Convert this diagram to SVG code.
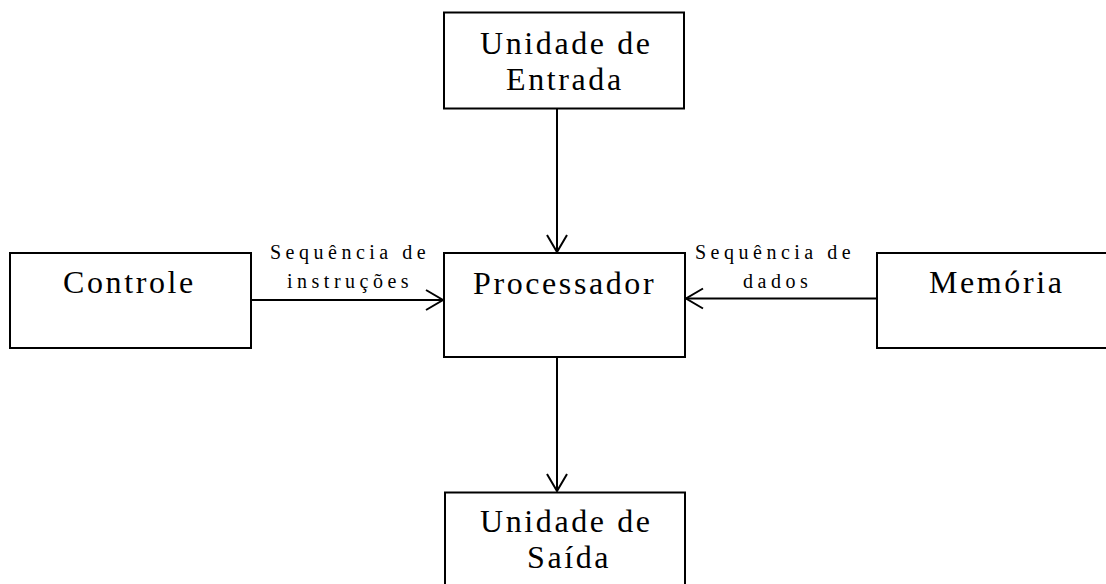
<svg xmlns="http://www.w3.org/2000/svg" width="1106" height="584" viewBox="0 0 1106 584">
<defs>
<style>
.box{fill:#fff;stroke:#000;stroke-width:2}
.big{font-family:"Liberation Serif","Times New Roman",serif;font-size:32px;letter-spacing:2.6px;fill:#000}
.small{font-family:"Liberation Serif","Times New Roman",serif;font-size:20px;letter-spacing:4.5px;fill:#000}
.conn{stroke:#000;stroke-width:2;fill:none}
</style>
<marker id="arr" markerUnits="userSpaceOnUse" markerWidth="24" markerHeight="24" viewBox="-20 -12 24 24" refX="0" refY="0" orient="auto">
<path d="M-17,-10 L0,0 L-17,10" fill="none" stroke="#000" stroke-width="2"/>
</marker>
</defs>
<rect width="1106" height="584" fill="#fff"/>
<g id="connectors">
<line class="conn" x1="557" y1="109" x2="557" y2="252" marker-end="url(#arr)"/>
<line class="conn" x1="557" y1="358" x2="557" y2="491" marker-end="url(#arr)"/>
<line class="conn" x1="251" y1="300" x2="443" y2="300" marker-end="url(#arr)"/>
<line class="conn" x1="877" y1="298.5" x2="686" y2="298.5" marker-end="url(#arr)"/>
<text class="small" x="270" y="259">Sequência de</text>
<text class="small" x="287" y="288">instruções</text>
<text class="small" x="695" y="259">Sequência de</text>
<text class="small" x="743" y="288">dados</text>
</g>
<g id="entrada">
<rect class="box" x="444" y="12.5" width="240" height="96"/>
<text class="big" x="480" y="54">Unidade de</text>
<text class="big" x="506" y="90">Entrada</text>
</g>
<g id="processador">
<rect class="box" x="444" y="253" width="241" height="104"/>
<text class="big" x="473" y="294">Processador</text>
</g>
<g id="controle">
<rect class="box" x="10" y="253" width="241" height="95"/>
<text class="big" x="63" y="293">Controle</text>
</g>
<g id="memoria">
<rect class="box" x="877" y="253" width="240" height="95"/>
<text class="big" x="929" y="293">Memória</text>
</g>
<g id="saida">
<rect class="box" x="445" y="492.5" width="240" height="120"/>
<text class="big" x="480" y="532">Unidade de</text>
<text class="big" x="527" y="568">Saída</text>
</g>
</svg>
